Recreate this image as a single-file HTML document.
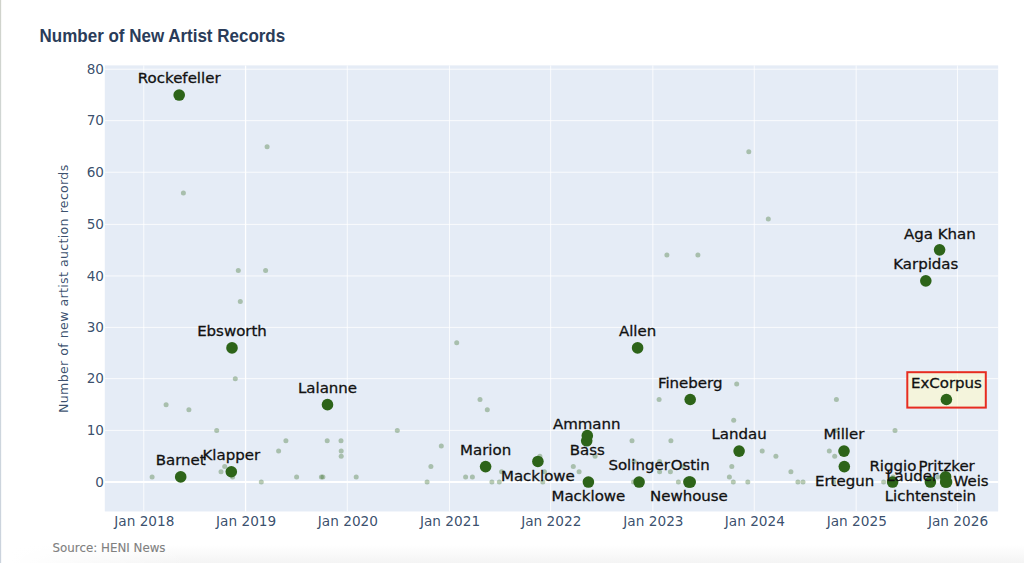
<!DOCTYPE html>
<html lang="en"><head><meta charset="utf-8"><title>Number of New Artist Records</title>
<style>html,body{margin:0;padding:0;background:#fff;overflow:hidden}body{width:1024px;height:563px;position:relative}svg{position:absolute;left:0;top:0;display:block}.v{font-family:'DejaVu Sans', Verdana, 'Liberation Sans', sans-serif}.a{font-family:'Liberation Sans', Arial, sans-serif}</style></head><body>
<svg width="1024" height="563" viewBox="0 0 1024 563">
<defs><linearGradient id="bg" x1="0" y1="0" x2="0" y2="1"><stop offset="0" stop-color="#ffffff"/><stop offset="1" stop-color="#f4f4f4"/></linearGradient><linearGradient id="fade" x1="0" y1="0" x2="1" y2="0"><stop offset="0.06" stop-color="#ffffff" stop-opacity="1"/><stop offset="1" stop-color="#ffffff" stop-opacity="0"/></linearGradient><linearGradient id="lg" x1="0" y1="0" x2="0" y2="1"><stop offset="0" stop-color="#d0d3cb"/><stop offset="0.5" stop-color="#d0d9de"/><stop offset="1" stop-color="#cbd3dd"/></linearGradient></defs>
<rect x="0" y="0" width="1024" height="563" fill="#ffffff"/>
<rect x="0" y="545" width="1024" height="18" fill="url(#bg)"/>
<rect x="0" y="545" width="190" height="18" fill="url(#fade)"/>
<rect x="0" y="0" width="1.15" height="563" fill="url(#lg)"/>
<rect x="104.8" y="65.4" width="893.35" height="446.04999999999995" fill="#e5ecf6"/>
<g stroke="#ffffff" stroke-width="1" stroke-opacity="0.8" fill="none">
<line x1="143.77" y1="65.4" x2="143.77" y2="511.45"/>
<line x1="245.57" y1="65.4" x2="245.57" y2="511.45" stroke-opacity="1" stroke-width="1.3"/>
<line x1="347.29" y1="65.4" x2="347.29" y2="511.45"/>
<line x1="449.45" y1="65.4" x2="449.45" y2="511.45"/>
<line x1="550.67" y1="65.4" x2="550.67" y2="511.45"/>
<line x1="652.84" y1="65.4" x2="652.84" y2="511.45"/>
<line x1="754.25" y1="65.4" x2="754.25" y2="511.45"/>
<line x1="856.16" y1="65.4" x2="856.16" y2="511.45"/>
<line x1="957.45" y1="65.4" x2="957.45" y2="511.45"/>
<line x1="104.8" y1="430.38" x2="998.15" y2="430.38"/>
<line x1="104.8" y1="378.66" x2="998.15" y2="378.66"/>
<line x1="104.8" y1="327.38" x2="998.15" y2="327.38"/>
<line x1="104.8" y1="275.95" x2="998.15" y2="275.95"/>
<line x1="104.8" y1="224.38" x2="998.15" y2="224.38"/>
<line x1="104.8" y1="172.24" x2="998.15" y2="172.24"/>
<line x1="104.8" y1="120.66" x2="998.15" y2="120.66"/>
<line x1="104.8" y1="69.23" x2="998.15" y2="69.23"/>
</g>
<line x1="104.8" y1="482.07" x2="998.15" y2="482.07" stroke="#ffffff" stroke-width="2"/>
<rect x="907.3" y="372.2" width="78.5" height="35.4" fill="rgba(255,250,200,0.56)" stroke="#e72c20" stroke-width="2"/>
<g fill="#2d6419" fill-opacity="0.33">
<circle cx="267.1" cy="146.67" r="2.5"/>
<circle cx="183.4" cy="193.11" r="2.5"/>
<circle cx="238.3" cy="270.51" r="2.5"/>
<circle cx="265.6" cy="270.51" r="2.5"/>
<circle cx="240.3" cy="301.47" r="2.5"/>
<circle cx="235.3" cy="378.87" r="2.5"/>
<circle cx="166.1" cy="404.67" r="2.5"/>
<circle cx="188.9" cy="409.83" r="2.5"/>
<circle cx="216.7" cy="430.47" r="2.5"/>
<circle cx="285.9" cy="440.79" r="2.5"/>
<circle cx="327.2" cy="440.79" r="2.5"/>
<circle cx="341.0" cy="440.79" r="2.5"/>
<circle cx="278.6" cy="451.11" r="2.5"/>
<circle cx="341.2" cy="451.11" r="2.5"/>
<circle cx="341.2" cy="456.27" r="2.5"/>
<circle cx="224.7" cy="466.59" r="2.5"/>
<circle cx="221.0" cy="471.75" r="2.5"/>
<circle cx="152.1" cy="476.91" r="2.5"/>
<circle cx="232.6" cy="476.91" r="2.5"/>
<circle cx="296.6" cy="476.91" r="2.5"/>
<circle cx="321.4" cy="476.91" r="2.5"/>
<circle cx="322.9" cy="476.91" r="2.5"/>
<circle cx="356.2" cy="476.91" r="2.5"/>
<circle cx="261.3" cy="482.07" r="2.5"/>
<circle cx="456.7" cy="342.75" r="2.5"/>
<circle cx="480.0" cy="399.51" r="2.5"/>
<circle cx="487.3" cy="409.83" r="2.5"/>
<circle cx="397.3" cy="430.47" r="2.5"/>
<circle cx="441.3" cy="445.95" r="2.5"/>
<circle cx="430.9" cy="466.59" r="2.5"/>
<circle cx="427.1" cy="482.07" r="2.5"/>
<circle cx="465.6" cy="476.91" r="2.5"/>
<circle cx="472.4" cy="476.91" r="2.5"/>
<circle cx="491.9" cy="482.07" r="2.5"/>
<circle cx="499.3" cy="482.07" r="2.5"/>
<circle cx="501.6" cy="471.75" r="2.5"/>
<circle cx="539.9" cy="456.27" r="2.5"/>
<circle cx="542.8" cy="482.07" r="2.5"/>
<circle cx="544.4" cy="471.75" r="2.5"/>
<circle cx="573.3" cy="466.59" r="2.5"/>
<circle cx="579.1" cy="471.75" r="2.5"/>
<circle cx="595.1" cy="456.27" r="2.5"/>
<circle cx="632.0" cy="440.79" r="2.5"/>
<circle cx="748.8" cy="151.83" r="2.5"/>
<circle cx="768.3" cy="218.91" r="2.5"/>
<circle cx="666.9" cy="255.03" r="2.5"/>
<circle cx="697.9" cy="255.03" r="2.5"/>
<circle cx="736.7" cy="384.03" r="2.5"/>
<circle cx="659.1" cy="399.51" r="2.5"/>
<circle cx="836.4" cy="399.51" r="2.5"/>
<circle cx="733.7" cy="420.15" r="2.5"/>
<circle cx="670.9" cy="440.79" r="2.5"/>
<circle cx="762.2" cy="451.11" r="2.5"/>
<circle cx="775.9" cy="456.27" r="2.5"/>
<circle cx="659.6" cy="461.43" r="2.5"/>
<circle cx="634.1" cy="461.43" r="2.5"/>
<circle cx="731.8" cy="466.59" r="2.5"/>
<circle cx="683.3" cy="466.59" r="2.5"/>
<circle cx="659.6" cy="471.75" r="2.5"/>
<circle cx="670.4" cy="471.75" r="2.5"/>
<circle cx="790.9" cy="471.75" r="2.5"/>
<circle cx="729.4" cy="476.91" r="2.5"/>
<circle cx="678.4" cy="482.07" r="2.5"/>
<circle cx="733.3" cy="482.07" r="2.5"/>
<circle cx="747.8" cy="482.07" r="2.5"/>
<circle cx="633.5" cy="482.07" r="2.5"/>
<circle cx="895.0" cy="430.47" r="2.5"/>
<circle cx="829.3" cy="451.11" r="2.5"/>
<circle cx="834.7" cy="456.27" r="2.5"/>
<circle cx="797.9" cy="482.07" r="2.5"/>
<circle cx="803.0" cy="482.07" r="2.5"/>
<circle cx="883.6" cy="482.07" r="2.5"/>
<circle cx="833.5" cy="482.07" r="2.5"/>
<circle cx="835.8" cy="430.47" r="2.5"/>
<circle cx="937.9" cy="476.91" r="2.5"/>
<circle cx="893.0" cy="476.91" r="2.5"/>
</g>
<g fill="#2d6419">
<circle cx="179.2" cy="95.07" r="5.8"/>
<circle cx="232.0" cy="347.91" r="5.8"/>
<circle cx="327.5" cy="404.67" r="5.8"/>
<circle cx="180.7" cy="476.91" r="5.8"/>
<circle cx="231.3" cy="471.75" r="5.8"/>
<circle cx="485.6" cy="466.59" r="5.8"/>
<circle cx="537.9" cy="461.43" r="5.8"/>
<circle cx="586.7" cy="440.79" r="5.8"/>
<circle cx="587.3" cy="435.63" r="5.8"/>
<circle cx="588.4" cy="482.07" r="5.8"/>
<circle cx="639.1" cy="482.07" r="5.8"/>
<circle cx="690.2" cy="482.07" r="5.8"/>
<circle cx="688.9" cy="482.07" r="5.8"/>
<circle cx="637.6" cy="347.91" r="5.8"/>
<circle cx="690.2" cy="399.51" r="5.8"/>
<circle cx="739.1" cy="451.11" r="5.8"/>
<circle cx="844.0" cy="451.11" r="5.8"/>
<circle cx="844.3" cy="466.59" r="5.8"/>
<circle cx="892.6" cy="482.07" r="5.8"/>
<circle cx="930.4" cy="482.07" r="5.8"/>
<circle cx="945.6" cy="476.91" r="5.8"/>
<circle cx="946.6" cy="482.07" r="5.8"/>
<circle cx="945.6" cy="482.07" r="5.8"/>
<circle cx="925.8" cy="280.83" r="5.8"/>
<circle cx="939.6" cy="249.87" r="5.8"/>
<circle cx="946.4" cy="399.51" r="5.8"/>
</g>
<g class="v" font-size="15" fill="#111111" stroke="#111111" stroke-width="0.3">
<text transform="translate(179.20,83.27) scale(1.0,0.95)" text-anchor="middle">Rockefeller</text>
<text transform="translate(232.00,336.11) scale(1.0,0.95)" text-anchor="middle">Ebsworth</text>
<text transform="translate(327.50,392.87) scale(1.0,0.95)" text-anchor="middle">Lalanne</text>
<text transform="translate(180.70,465.11) scale(1.0,0.95)" text-anchor="middle">Barnet</text>
<text transform="translate(231.30,459.95) scale(1.0,0.95)" text-anchor="middle">Klapper</text>
<text transform="translate(485.60,454.79) scale(1.0,0.95)" text-anchor="middle">Marion</text>
<text transform="translate(537.90,480.83) scale(1.0,0.95)" text-anchor="middle">Macklowe</text>
<text transform="translate(586.70,428.59) scale(1.0,0.95)" text-anchor="middle">Ammann</text>
<text transform="translate(587.30,455.33) scale(1.0,0.95)" text-anchor="middle">Bass</text>
<text transform="translate(588.40,501.47) scale(1.0,0.95)" text-anchor="middle">Macklowe</text>
<text transform="translate(639.10,470.27) scale(1.0,0.95)" text-anchor="middle">Solinger</text>
<text transform="translate(690.20,470.27) scale(1.0,0.95)" text-anchor="middle">Ostin</text>
<text transform="translate(688.90,501.47) scale(1.0,0.95)" text-anchor="middle">Newhouse</text>
<text transform="translate(637.60,336.11) scale(1.0,0.95)" text-anchor="middle">Allen</text>
<text transform="translate(690.20,387.71) scale(1.0,0.95)" text-anchor="middle">Fineberg</text>
<text transform="translate(739.10,439.31) scale(1.0,0.95)" text-anchor="middle">Landau</text>
<text transform="translate(844.00,439.31) scale(1.0,0.95)" text-anchor="middle">Miller</text>
<text transform="translate(844.60,485.99) scale(1.0,0.95)" text-anchor="middle">Ertegun</text>
<text transform="translate(892.90,471.07) scale(1.0,0.95)" text-anchor="middle">Riggio</text>
<text transform="translate(930.40,501.47) scale(1.0,0.95)" text-anchor="middle">Lichtenstein</text>
<text transform="translate(938.10,481.01) scale(1.0,0.95)" text-anchor="end">Lauder</text>
<text transform="translate(946.60,470.87) scale(1.0,0.95)" text-anchor="middle">Pritzker</text>
<text transform="translate(953.50,485.97) scale(1.0,0.95)" text-anchor="start">Weis</text>
<text transform="translate(925.80,269.03) scale(1.0,0.95)" text-anchor="middle">Karpidas</text>
<text transform="translate(939.80,238.57) scale(1.0,0.95)" text-anchor="middle">Aga Khan</text>
<text transform="translate(946.40,387.71) scale(1.0,0.95)" text-anchor="middle">ExCorpus</text>
</g>
<g class="v" font-size="14.4" fill="#2a3f5f" fill-opacity="0.93" text-anchor="end">
<text transform="translate(104.0,486.77) scale(0.945,1)">0</text>
<text transform="translate(104.0,435.08) scale(0.945,1)">10</text>
<text transform="translate(104.0,383.36) scale(0.945,1)">20</text>
<text transform="translate(104.0,332.08) scale(0.945,1)">30</text>
<text transform="translate(104.0,280.65) scale(0.945,1)">40</text>
<text transform="translate(104.0,229.08) scale(0.945,1)">50</text>
<text transform="translate(104.0,176.94) scale(0.945,1)">60</text>
<text transform="translate(104.0,125.36) scale(0.945,1)">70</text>
<text transform="translate(104.0,73.93) scale(0.945,1)">80</text>
</g>
<g class="v" font-size="14.4" fill="#2a3f5f" fill-opacity="0.93" text-anchor="middle">
<text transform="translate(144.37,526.4) scale(0.95,1)">Jan 2018</text>
<text transform="translate(246.17,526.4) scale(0.95,1)">Jan 2019</text>
<text transform="translate(347.89,526.4) scale(0.95,1)">Jan 2020</text>
<text transform="translate(450.05,526.4) scale(0.95,1)">Jan 2021</text>
<text transform="translate(551.27,526.4) scale(0.95,1)">Jan 2022</text>
<text transform="translate(653.44,526.4) scale(0.95,1)">Jan 2023</text>
<text transform="translate(754.85,526.4) scale(0.95,1)">Jan 2024</text>
<text transform="translate(856.76,526.4) scale(0.95,1)">Jan 2025</text>
<text transform="translate(958.05,526.4) scale(0.95,1)">Jan 2026</text>
</g>
<text class="v" font-size="12.6" letter-spacing="0.3" word-spacing="0.5" fill="#2a3f5f" fill-opacity="0.92" text-anchor="middle" transform="translate(68.4,288.7) rotate(-90)">Number of new artist auction records</text>
<text class="a" x="0" y="0" font-size="17" font-weight="bold" fill="#2a3c59" transform="translate(39.6,42) scale(1,1.075)">Number of New Artist Records</text>
<text class="v" x="52.6" y="551.6" font-size="11.85" fill="#808080" stroke="#808080" stroke-width="0.1">Source: HENI News</text>
</svg></body></html>
